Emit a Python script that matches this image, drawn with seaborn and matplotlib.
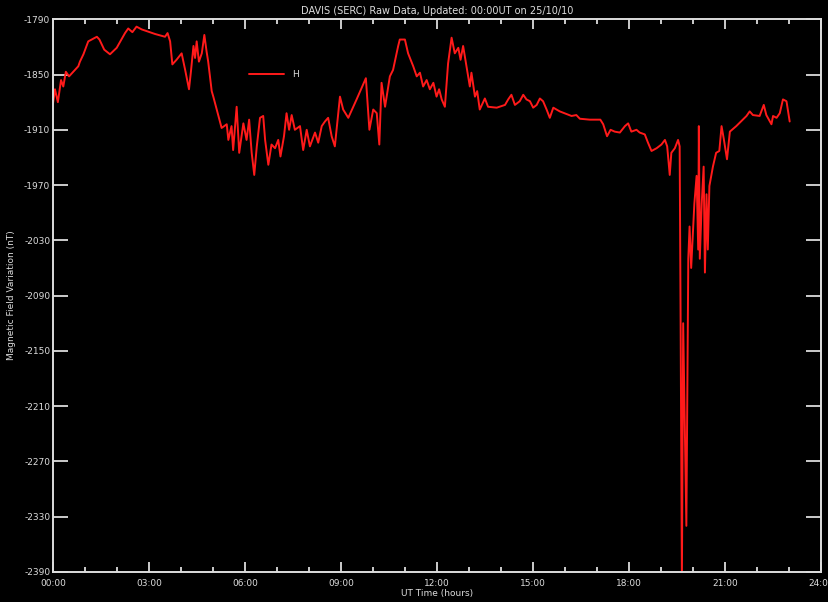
import matplotlib
matplotlib.use("Agg")
import matplotlib.pyplot as plt
import seaborn as sns
import numpy as np
import pandas as pd

# --- data (UT hours, nT) ---
HOURS = [
    0.00, 0.06, 0.15, 0.25, 0.32, 0.40, 0.50, 0.79, 0.84, 0.95,
    1.10, 1.37, 1.45, 1.60, 1.78, 1.99, 2.25, 2.35, 2.48, 2.61,
    2.77, 3.19, 3.50, 3.58, 3.66, 3.73, 3.86, 4.02, 4.13, 4.25,
    4.31, 4.39, 4.44, 4.49, 4.56, 4.65, 4.73, 4.80, 4.85, 4.96,
    5.01, 5.27, 5.43, 5.48, 5.58, 5.63, 5.74, 5.82, 5.95, 6.05,
    6.13, 6.21, 6.29, 6.37, 6.47, 6.57, 6.63, 6.73, 6.83, 6.94,
    7.04, 7.11, 7.22, 7.30, 7.38, 7.46, 7.56, 7.72, 7.82, 7.93,
    8.03, 8.19, 8.29, 8.40, 8.50, 8.60, 8.71, 8.81, 8.97, 9.07,
    9.23, 9.49, 9.78, 9.89, 10.01, 10.12, 10.20, 10.27, 10.38, 10.53,
    10.63, 10.79, 10.84, 11.00, 11.10, 11.26, 11.37, 11.47, 11.57, 11.68,
    11.78, 11.89, 11.99, 12.07, 12.15, 12.25, 12.35, 12.46, 12.56, 12.67,
    12.74, 12.82, 12.91, 13.03, 13.08, 13.19, 13.26, 13.34, 13.50, 13.60,
    13.87, 14.13, 14.23, 14.33, 14.44, 14.59, 14.70, 14.80, 14.91, 15.01,
    15.12, 15.22, 15.32, 15.43, 15.53, 15.64, 15.84, 16.21, 16.36, 16.47,
    16.78, 17.11, 17.20, 17.32, 17.43, 17.56, 17.72, 17.88, 17.98, 18.08,
    18.24, 18.34, 18.50, 18.60, 18.71, 18.87, 19.02, 19.13, 19.20, 19.28,
    19.33, 19.44, 19.54, 19.59, 19.62, 19.66, 19.70, 19.80, 19.86, 19.90,
    19.95, 20.05, 20.12, 20.17, 20.19, 20.22, 20.28, 20.34, 20.38, 20.43,
    20.47, 20.52, 20.63, 20.73, 20.83, 20.90, 20.97, 21.07, 21.16, 21.36,
    21.68, 21.78, 21.88, 22.09, 22.22, 22.30, 22.46, 22.51, 22.62, 22.72,
    22.82, 22.93, 23.03,
]
FIELD_H = [
    -1881, -1866, -1880, -1856, -1863, -1847, -1852, -1841, -1836, -1828,
    -1814, -1809, -1812, -1823, -1828, -1821, -1805, -1800, -1804, -1798,
    -1801, -1806, -1809, -1805, -1814, -1839, -1834, -1827, -1845, -1866,
    -1847, -1819, -1832, -1814, -1836, -1827, -1807, -1825, -1836, -1868,
    -1874, -1908, -1904, -1921, -1906, -1932, -1885, -1935, -1903, -1921,
    -1899, -1935, -1959, -1928, -1897, -1895, -1921, -1948, -1926, -1930,
    -1921, -1939, -1917, -1892, -1910, -1894, -1910, -1906, -1932, -1910,
    -1928, -1913, -1924, -1906, -1901, -1897, -1917, -1928, -1874, -1888,
    -1897, -1877, -1854, -1910, -1888, -1892, -1926, -1859, -1885, -1852,
    -1845, -1819, -1812, -1812, -1827, -1841, -1852, -1848, -1863, -1856,
    -1866, -1859, -1874, -1866, -1877, -1885, -1838, -1810, -1827, -1821,
    -1834, -1819, -1838, -1863, -1848, -1874, -1868, -1888, -1876, -1885,
    -1886, -1883, -1877, -1872, -1883, -1879, -1872, -1877, -1879, -1886,
    -1883, -1876, -1879, -1888, -1897, -1886, -1890, -1895, -1894, -1898,
    -1899, -1899, -1904, -1917, -1910, -1912, -1913, -1906, -1903, -1912,
    -1910, -1913, -1915, -1924, -1933, -1930, -1926, -1921, -1928, -1959,
    -1935, -1930, -1921, -1928, -2118, -2400, -2120, -2340, -2050, -2015,
    -2060, -1990, -1960, -2040, -1906, -2050, -1990, -1950, -2065, -1980,
    -2040, -1971, -1950, -1935, -1933, -1906, -1920, -1942, -1912, -1906,
    -1895, -1890, -1894, -1895, -1883, -1894, -1904, -1895, -1897, -1892,
    -1877, -1879, -1901,
]

Y_TICKS = list(range(-1790, -2391, -60))
X_TICKS = list(range(0, 25, 3))
X_LABELS = [f"{h:02d}:00" for h in X_TICKS]

FG = "#dcdcdc"

sns.set_theme(style="dark", rc={
    "figure.facecolor": "black",
    "axes.facecolor": "black",
    "axes.edgecolor": FG,
    "axes.linewidth": 1.4,
    "text.color": FG,
    "axes.labelcolor": FG,
    "xtick.color": FG,
    "ytick.color": FG,
})
plt.rcParams["font.family"] = ["DejaVu Sans"]

df = pd.DataFrame({"hours": HOURS, "H": FIELD_H})

fig = plt.figure(figsize=(8.29, 6.02), dpi=100)
ax = fig.add_axes([0.064, 0.050, 0.926, 0.918])

sns.lineplot(data=df, x="hours", y="H", ax=ax, color="#ff1a1a",
             linewidth=1.4, sort=False, estimator=None, label="H")

ax.set_xlim(0, 24)
ax.set_ylim(-2390, -1790)
ax.set_xticks(X_TICKS)
ax.set_xticklabels(X_LABELS)
ax.set_xticks(range(0, 25), minor=True)
ax.set_yticks(Y_TICKS)
ax.set_yticklabels([str(v) for v in Y_TICKS])

ax.tick_params(axis="x", which="major", direction="in", length=7, width=1.3,
               top=True, bottom=True, labelsize=6.5, pad=5)
ax.tick_params(axis="x", which="minor", direction="in", length=3.5, width=1.3,
               top=True, bottom=True)
ax.tick_params(axis="y", which="major", direction="in", length=11, width=1.3,
               left=True, right=True, labelsize=6.5, pad=2)
ax.grid(False)
for s in ax.spines.values():
    s.set_visible(True)
    s.set_color(FG)

ax.set_xlabel("UT Time (hours)", fontsize=6.5, labelpad=1)
ax.set_ylabel("Magnetic Field Variation (nT)", fontsize=6.5, labelpad=6)
ax.set_title("DAVIS (SERC) Raw Data, Updated: 00:00UT on 25/10/10",
             fontsize=7, color=FG, pad=4)

leg = ax.legend(loc="center left", bbox_to_anchor=(0.245, 0.90), frameon=False,
                handlelength=3.9, fontsize=6.5, labelcolor=FG)

fig.savefig("out.png", dpi=100, facecolor="black")
